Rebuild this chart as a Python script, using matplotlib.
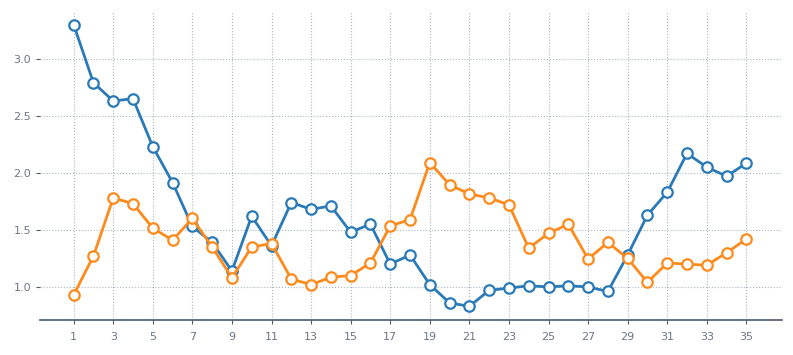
import numpy as np
import matplotlib.pyplot as plt

days = list(range(1, 36))
blue = [3.30, 2.79, 2.63, 2.65, 2.23, 1.915, 1.53, 1.39, 1.14, 1.62,
        1.36, 1.74, 1.68, 1.71, 1.48, 1.55, 1.20, 1.28, 1.02, 0.86,
        0.83, 0.97, 0.99, 1.01, 1.00, 1.01, 1.00, 0.96, 1.28, 1.63,
        1.83, 2.17, 2.05, 1.97, 2.085]
orange = [0.93, 1.27, 1.78, 1.73, 1.515, 1.41, 1.60, 1.35, 1.08, 1.35,
          1.38, 1.07, 1.02, 1.085, 1.10, 1.21, 1.535, 1.59, 2.09, 1.895,
          1.815, 1.78, 1.72, 1.34, 1.47, 1.55, 1.245, 1.39, 1.25, 1.04,
          1.21, 1.20, 1.19, 1.30, 1.42]
xticks = list(range(1, 36, 2))
yticks = [1.0, 1.5, 2.0, 2.5, 3.0]

fig = plt.figure(figsize=(7.93, 3.55), dpi=100)
ax = fig.add_axes([40 / 793, 35 / 355, 742 / 793, 308 / 355])

for vals, col in [(blue, '#2a7ab8'), (orange, '#ff8a1c')]:
    ax.plot(days, vals, '-o', color=col, lw=2, ms=7.5,
            mfc='white', mec=col, mew=1.6, zorder=3)

ax.set_xlim(-0.7, 36.8)
ax.set_ylim(0.71, 3.41)
ax.set_xticks(xticks)
ax.set_yticks(yticks)
ax.grid(True, ls=':', color='#a9b5c2', lw=0.8)
for s in ['top', 'right', 'left']:
    ax.spines[s].set_visible(False)
ax.spines['bottom'].set_color('#4a5a6a')
ax.spines['bottom'].set_linewidth(1.2)
ax.tick_params(axis='both', labelsize=8, colors='#4a5a6a', labelcolor='#6b7785', length=3)
ax.tick_params(axis='x', pad=6)

fig.savefig('out.png', dpi=100)
